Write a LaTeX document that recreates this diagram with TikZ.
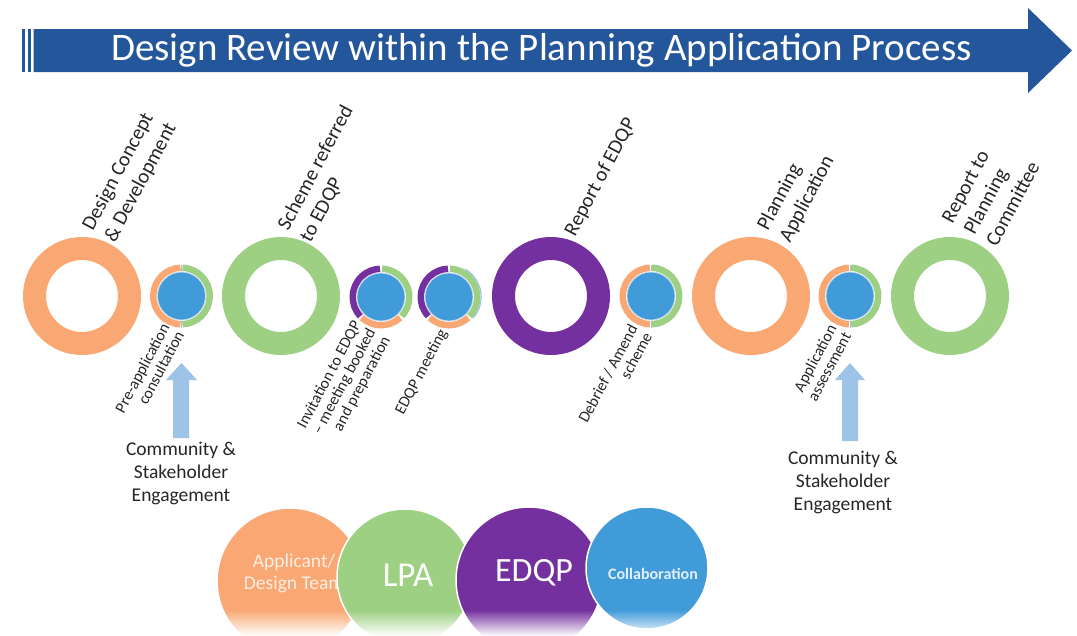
\documentclass[tikz,border=0pt]{standalone}
\usepackage{fontspec}
\setmainfont{Carlito}
\usetikzlibrary{fadings}
\definecolor{orng}{HTML}{F9A873}
\definecolor{grn}{HTML}{9DD083}
\definecolor{prp}{HTML}{7530A0}
\definecolor{blu}{HTML}{419BD9}
\definecolor{dblue}{HTML}{24569B}
\definecolor{lblue}{HTML}{9DC3E6}
\definecolor{txt}{HTML}{262626}
\begin{document}
\begin{tikzpicture}[x=1pt,y=-1pt,
  bigring/.style={circle, draw=#1, line width=23pt, minimum size=95pt, inner sep=0pt},
  disk/.style={circle, fill=blu, draw=lblue!60!white, line width=0.8pt, minimum size=48pt, inner sep=0pt},
  seg/.style={draw=#1, line width=6.5pt},
  uplab/.style={rotate=62, inner sep=0pt, anchor=south west, align=left, text=txt,
    font=\fontsize{20.5}{25}\selectfont},
  lowlab/.style={rotate=62, inner sep=0pt, anchor=south east, align=right, text=txt,
    font=\fontsize{16}{16.5}\selectfont},
  comm/.style={align=center, text=txt, inner sep=0pt, font=\fontsize{19.5}{23}\selectfont},
  bub/.style={circle, fill=#1, draw=white, line width=1.5pt, inner sep=0pt},
  bigarrow/.style={fill=lblue}
]
\useasboundingbox (0,0) rectangle (1077,635);

% ---- title arrow ----
\fill[dblue] (22,29) rectangle (25,72);
\fill[dblue] (27.5,29) rectangle (31,72);
\fill[dblue] (33.5,29) -- (1028,29) -- (1028,8) -- (1072,50.5) -- (1028,93) -- (1028,72) -- (33.5,72) -- cycle;
\node[text=white, font=\fontsize{39}{40}\selectfont, inner sep=0pt] (title) at (541.5,50)
  {Design Review within the Planning Application Process};

% ---- big rings ----
\node[bigring=orng] (r1) at (82,296) {};
\node[bigring=grn]  (r2) at (281,296) {};
\node[bigring=prp]  (r3) at (551,296) {};
\node[bigring=orng] (r4) at (751,296) {};
\node[bigring=grn]  (r5) at (950,296) {};

% ---- small two-colour circles ----
\foreach \n/\cx in {s1/181.5, s4/651, s5/850}{
  \node[disk] (\n) at (\cx,296) {};
  \draw[seg=orng] (\n.center) ++(-268:28.25) arc[start angle=-268, end angle=-92, radius=28.25];
  \draw[seg=grn]  (\n.center) ++(-88:28.25) arc[start angle=-88, end angle=88, radius=28.25];
  \draw[lblue, line width=0.9pt] (\n.center) ++(0,-25) -- ++(0,-6.5);
  \draw[lblue, line width=0.9pt] (\n.center) ++(0,25) -- ++(0,6.5);
}

% ---- small three-colour circles ----
\foreach \n/\cx in {s2/381, s3/449}{
  \node[disk] (\n) at (\cx,297) {};
  \draw[seg=prp]  (\n.center) ++(-223:28.25) arc[start angle=-223, end angle=-92, radius=28.25];
  \draw[seg=orng] (\n.center) ++(-313:28.25) arc[start angle=-313, end angle=-227, radius=28.25];
  \draw[seg=grn]  (\n.center) ++(-88:28.25) arc[start angle=-88, end angle=43, radius=28.25];
}
\draw[lblue, line width=1.2pt] (s3.center) ++(-60:32.2) arc[start angle=-60, end angle=40, radius=32.2];

% ---- labels above ----
\node[uplab] (l1) at (118,245) {Design Concept\\\& Development};
\node[uplab] (l2) at (313,245) {Scheme referred\\to EDQP};
\node[uplab] (l3) at (578,239) {Report of EDQP};
\node[uplab] (l4) at (793,245) {Planning\\Application};
\node[uplab] (l5) at (997,248) {Report to\\Planning\\Committee};

% ---- labels below ----
\node[lowlab] (m1) at (185,335) {Pre-application\\consultation};
\node[lowlab] (m2) at (393,341) {Invitation to EDQP\\– meeting booked\\and preparation};
\node[lowlab] (m3) at (450,334) {EDQP meeting};
\node[lowlab] (m4) at (653,336) {Debrief / Amend\\scheme};
\node[lowlab] (m5) at (852,336) {Application\\assessment};

% ---- engagement arrows ----
\fill[bigarrow] (173,438) -- (173,380) -- (166,380) -- (181.5,363) -- (197,380) -- (189,380) -- (189,438) -- cycle;
\fill[bigarrow] (842,441) -- (842,380) -- (835,380) -- (850,363) -- (865,380) -- (858,380) -- (858,441) -- cycle;
\node[comm] (c1) at (181,473) {Community \&\\Stakeholder\\Engagement};
\node[comm] (c2) at (843,482) {Community \&\\Stakeholder\\Engagement};

% ---- legend bubbles ----
\node[bub=orng, minimum size=146pt] (b1) at (290,581) {};
\node[text=orng!20!white, align=center, inner sep=0pt, font=\fontsize{19.5}{22}\selectfont] (t1) at (294,573) {Applicant/\\Design Team};
\node[bub=grn, minimum size=136pt] (b2) at (405,577) {};
\node[text=white, inner sep=0pt, font=\fontsize{35}{36}\selectfont] (t2) at (408,575) {LPA};
\node[bub=prp, minimum size=146pt] (b3) at (529,580) {};
\node[text=white, inner sep=0pt, font=\fontsize{34}{36}\selectfont] (t3) at (534,573) {EDQP};
\node[bub=blu, minimum size=122pt] (b4) at (647,568) {};
\node[text=blu!15!white, inner sep=0pt, font=\bfseries\fontsize{16}{18}\selectfont] (t4) at (653,574) {Collaboration};
\fill[white, path fading=north] (200,610) rectangle (720,636);
\end{tikzpicture}
\end{document}
